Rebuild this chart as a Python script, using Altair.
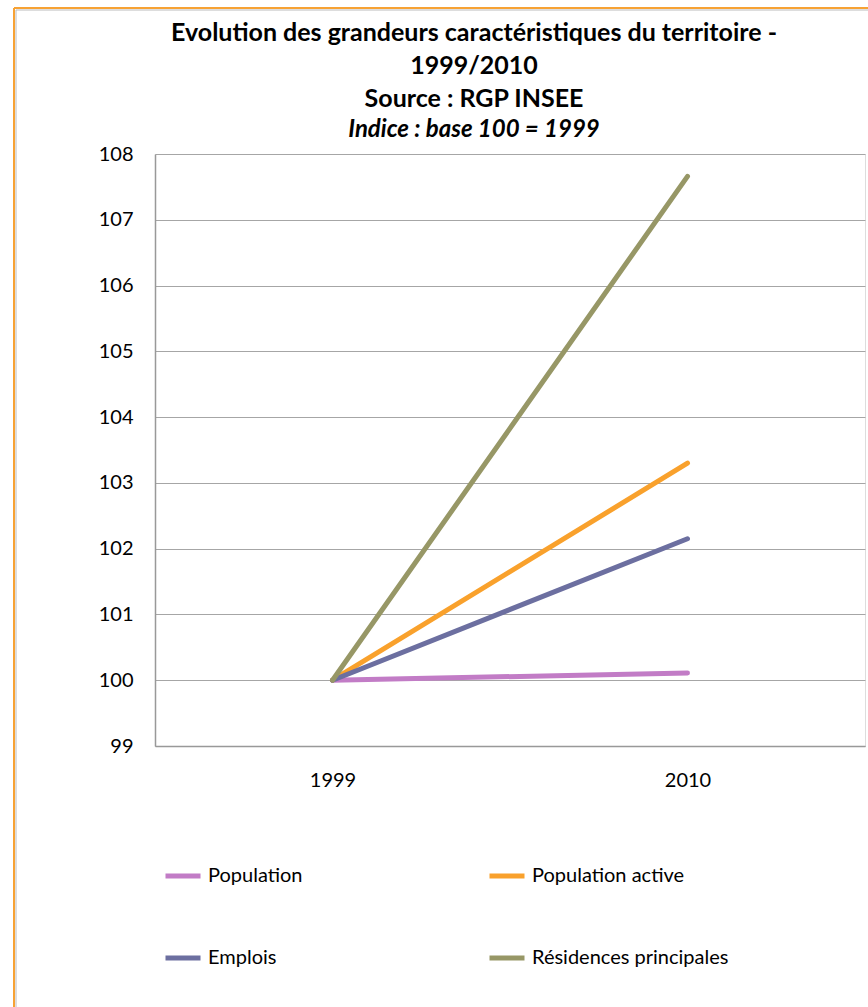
import altair as alt
import pandas as pd

years = ["1999", "2010"]
series = ["Population", "Population active", "Emplois", "Résidences principales"]
values = {
    "Population": [100.0, 100.11],
    "Population active": [100.0, 103.30],
    "Emplois": [100.0, 102.15],
    "Résidences principales": [100.0, 107.66],
}
colors = ["#C27CC6", "#F9A12C", "#6C6FA0", "#979766"]
y_ticks = [99, 100, 101, 102, 103, 104, 105, 106, 107, 108]

rows = []
for s in series:
    for yr, v in zip(years, values[s]):
        rows.append({"annee": yr, "serie": s, "indice": v})
df = pd.DataFrame(rows)

FONT = "Lato"

lines = alt.Chart(df).mark_line(strokeWidth=5, strokeCap="round", strokeJoin="round").encode(
    x=alt.X("annee:N", scale=alt.Scale(type="point", padding=0.5),
            axis=alt.Axis(title=None, labelAngle=0, grid=False, ticks=False,
                          domainColor="#999999", domainWidth=1.5, labelPadding=24,
                          labelFontSize=20, labelColor="#000000", labelFont=FONT)),
    y=alt.Y("indice:Q", scale=alt.Scale(domain=[99, 108], nice=False, zero=False),
            axis=alt.Axis(title=None, values=y_ticks, format="d", grid=True,
                          gridColor="#A6A6A6", gridWidth=1, ticks=False,
                          domainColor="#999999", domainWidth=1.5, labelPadding=22,
                          labelFontSize=20, labelColor="#000000", labelFont=FONT)),
    color=alt.Color("serie:N", scale=alt.Scale(domain=series, range=colors),
                    sort=series,
                    legend=alt.Legend(title=None, orient="none", legendX=8, legendY=702,
                                      direction="horizontal",
                                      columns=2, columnPadding=176, rowPadding=52,
                                      symbolType="stroke", symbolSize=1225,
                                      symbolStrokeWidth=5, labelOffset=5,
                                      labelFontSize=20, labelFont=FONT,
                                      labelColor="#000000", labelLimit=300)),
    order=alt.Order("serie:N"),
)

border_data = alt.Data(values=[{"k": 1}])
left_border = alt.Chart(border_data).mark_rule(color="#F7A234", strokeWidth=2).encode(
    x=alt.value(-141), y=alt.value(-146), y2=alt.value(870))
left_inner = alt.Chart(border_data).mark_rule(color="#BBBBBB", strokeWidth=1).encode(
    x=alt.value(-139), y=alt.value(-144), y2=alt.value(870))
top_border = alt.Chart(border_data).mark_rule(color="#F7A234", strokeWidth=2).encode(
    y=alt.value(-146), x=alt.value(-141), x2=alt.value(730))
top_inner = alt.Chart(border_data).mark_rule(color="#BBBBBB", strokeWidth=1).encode(
    y=alt.value(-144), x=alt.value(-139), x2=alt.value(730))

chart = alt.layer(left_border, left_inner, top_border, top_inner, lines).properties(
    width=710, height=592,
    padding={"left": 155, "top": 154, "right": 3, "bottom": 261},
    autosize=alt.AutoSizeParams(type="none"),
    title=alt.TitleParams(
        text=["Evolution des grandeurs caractéristiques du territoire -", "1999/2010",
              "Source : RGP INSEE"],
        subtitle="Indice : base 100 = 1999",
        anchor="middle", frame="group", dx=-36, dy=147, offset=12,
        font=FONT, fontSize=25, fontWeight="bold", color="#000000", lineHeight=33,
        subtitleFont=FONT, subtitleFontSize=24, subtitleFontWeight="bold",
        subtitleFontStyle="italic", subtitleColor="#000000", subtitleLineHeight=30,
        subtitlePadding=6,
    ),
).configure_view(stroke=None).configure(background="#FFFFFF")

chart.save("out.html", embed_options={"renderer": "svg", "actions": False})
